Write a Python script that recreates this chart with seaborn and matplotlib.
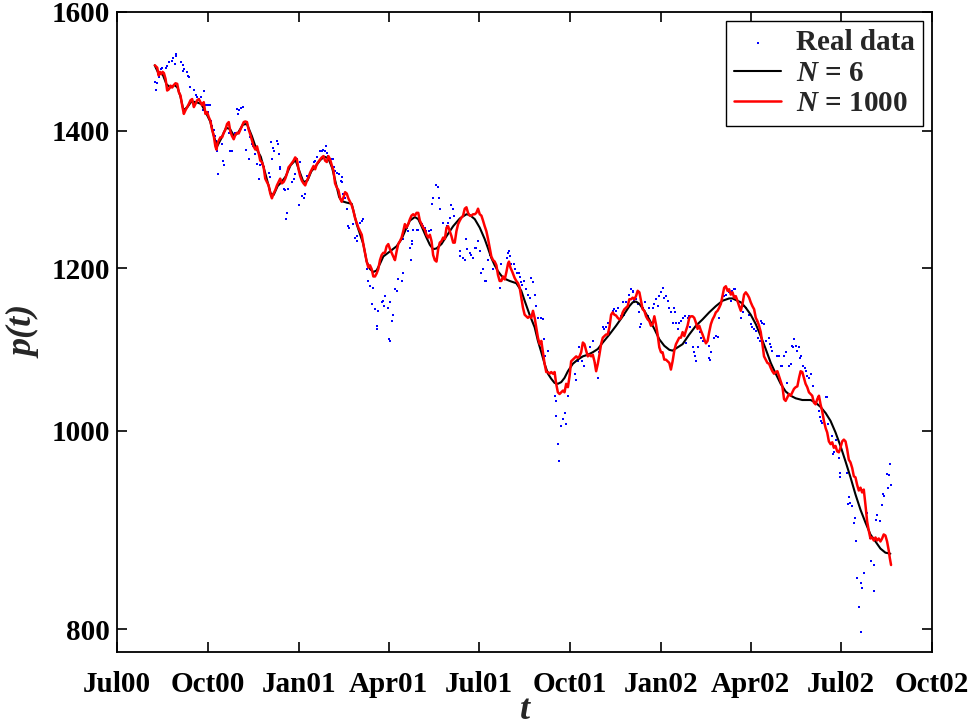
import numpy as np
import pandas as pd
import matplotlib
matplotlib.use("Agg")
import matplotlib.pyplot as plt
import matplotlib.ticker as mticker
import seaborn as sns

# ---------------- data (days since 2000-07-01, index level) ----------------
START = "2000-07-01"

real_days = [38.2, 38.9, 39.9, 42.3, 43.9, 45.6, 49.0, 50.6, 52.3, 55.7, 56.7, 58.0, 59.3, 60.0, 64.7, 66.1, 66.7, 67.4,
             70.1, 71.8, 73.1, 74.1, 78.1, 79.5, 80.8, 82.5, 84.8, 85.8, 86.8, 87.5, 89.2, 90.9, 92.2, 92.5, 94.2, 94.8,
             95.9, 98.2, 99.2, 100.3, 100.9, 101.6, 106.0, 106.6, 107.6, 112.7, 114.3, 116.0, 119.4, 121.0, 122.1, 123.4,
             125.4, 127.1, 129.4, 130.4, 132.8, 134.5, 136.1, 137.1, 139.5, 141.2, 142.8, 144.5, 146.2, 147.9, 152.9,
             154.6, 155.6, 156.2, 157.3, 158.6, 161.3, 161.9, 163.0, 164.0, 164.6, 168.0, 169.7, 170.7, 171.3, 172.0,
             176.4, 178.0, 179.7, 181.4, 183.1, 184.7, 186.4, 188.1, 189.8, 191.5, 193.1, 194.8, 198.2, 199.8, 201.5,
             204.9, 206.5, 208.2, 209.9, 210.9, 211.6, 213.2,
             216.6, 218.3, 218.9, 220.3, 221.6, 224.3, 225.6, 226.6, 227.0, 228.3, 230.0, 232.3, 233.3, 234.4, 238.4,
             240.1, 241.7, 242.4, 244.4, 245.1, 246.8, 248.4, 251.8, 253.5, 255.1, 256.8, 258.5, 260.2, 261.8, 262.5,
             263.5, 266.9, 268.6, 269.2, 270.2, 273.6, 274.6, 275.3, 275.8, 276.9, 278.6, 280.3, 282.0, 283.6, 287.0,
             288.0, 288.7, 290.3, 292.0, 293.7, 295.4, 296.0, 297.0, 298.0, 298.7, 302.1, 303.8, 307.1, 308.8, 310.5,
             312.1, 314.8, 316.2, 317.2, 318.8, 322.2, 323.9, 324.9, 326.2, 328.9, 332.3, 333.9, 335.6, 337.3, 339.0,
             339.6, 345.7, 346.3, 349.0, 350.7, 352.4, 353.1, 355.7, 357.4, 359.1, 360.8, 362.4, 364.1, 365.8, 367.5,
             369.1, 370.8, 372.5, 374.2, 375.8, 377.5, 379.2, 380.9, 382.6, 385.9, 387.6,
             393.3, 394.3, 395.3, 396.0, 397.7, 400.0, 401.0, 403.4, 405.4, 406.7, 407.7, 408.7, 410.1, 412.8, 414.4,
             416.1, 417.8, 419.5, 421.2, 422.8, 424.5, 427.9, 429.5, 430.2, 431.2, 434.6, 441.3, 442.3, 442.9, 444.6,
             445.6, 448.0, 449.7, 451.3, 453.0, 454.7, 461.4, 463.1, 464.7, 465.8, 467.1, 469.1, 469.8, 471.4, 476.5,
             479.8, 482.5, 484.9, 486.5, 489.9, 491.6, 493.2, 494.9, 496.6, 500.0, 501.6, 503.3, 505.0, 508.3, 510.0,
             511.7, 513.4, 516.7, 518.4, 520.1, 520.7, 521.7, 523.4, 525.1, 526.1, 527.4, 528.4, 530.1, 532.8, 535.2,
             536.8, 540.2, 541.9, 543.5, 545.2, 546.9, 548.6, 550.2, 551.9, 553.6, 555.3, 557.0, 558.6, 560.3, 562.0,
             563.0, 563.7, 565.3, 566.4, 568.7, 570.4, 573.1, 573.7, 575.4, 577.1,
             577.8, 580.5, 582.1, 583.1, 583.8, 585.5, 587.8, 588.8, 590.5, 596.6, 597.2, 597.9, 598.9, 602.3, 603.9,
             605.6, 606.6, 610.0, 612.3, 614.0, 617.3, 619.0, 620.7, 622.4, 623.4, 629.1, 630.8, 632.4, 634.1, 637.5,
             639.1, 640.8, 642.5, 644.2, 645.8, 646.8, 648.2, 649.2, 650.9, 652.5, 654.2, 657.6, 658.3, 659.3, 660.9,
             666.0, 667.6, 669.3, 671.0, 672.7, 674.3, 676.0, 677.7, 679.4, 680.4, 681.7, 682.7, 684.4, 686.1, 687.8,
             688.4, 689.4, 691.8, 693.8, 695.1, 696.1, 697.8, 699.5,
             702.2, 704.5, 707.9, 708.9, 710.2, 711.2, 714.6, 715.6, 716.9, 721.3, 722.3, 723.0, 724.6, 728.0, 729.0,
             729.6, 736.4, 737.0, 738.0, 739.0, 741.4, 743.1, 744.7, 745.3, 746.4, 748.1, 749.8, 750.4, 751.4, 753.1,
             756.5, 759.8, 760.3, 763.2, 763.9, 765.9, 766.5, 769.2, 771.6, 772.6, 773.2, 776.6, 777.6, 778.3, 779.9,
             780.6]
real_price = [1479, 1466, 1477, 1487, 1500, 1503, 1503, 1506, 1512, 1514, 1520, 1509, 1523, 1526, 1512, 1498, 1507, 1500,
              1495, 1489, 1487, 1470, 1466, 1457, 1454, 1451, 1454, 1443, 1433, 1464, 1441, 1441, 1430, 1442, 1441, 1416,
              1408, 1402, 1392, 1385, 1369, 1334, 1379, 1354, 1347, 1397, 1369, 1369, 1397, 1435, 1427, 1433,
              1437, 1438, 1402, 1371, 1356, 1390, 1379, 1376, 1364, 1349, 1327, 1347, 1349, 1344, 1336,
              1329, 1382, 1356, 1374, 1369, 1385, 1379, 1364, 1344, 1341, 1312, 1310, 1268, 1277, 1312,
              1322, 1327, 1334, 1356, 1288, 1352, 1302, 1299, 1305, 1331, 1329, 1334, 1352, 1354, 1359,
              1369, 1369, 1371, 1369, 1376, 1366, 1361,
              1357, 1356, 1345, 1339, 1336, 1334, 1323, 1330, 1322, 1305, 1299, 1283, 1258, 1256, 1261,
              1242, 1244, 1237, 1253, 1263, 1266, 1268, 1199, 1183, 1176, 1153, 1174, 1146, 1125, 1121,
              1144, 1155, 1157, 1150, 1163, 1148, 1108, 1106, 1155, 1131, 1139, 1172, 1170, 1185, 1183,
              1193, 1240, 1253, 1256, 1251, 1228, 1211, 1233, 1237, 1253, 1253, 1253, 1261, 1258, 1256,
              1251, 1251, 1253, 1290, 1298, 1317, 1314, 1298, 1283, 1263, 1258, 1263, 1270, 1288, 1283,
              1273, 1223, 1216, 1214, 1211, 1240, 1226, 1221, 1218, 1214, 1228, 1228, 1237, 1223, 1193,
              1199, 1183, 1183, 1211, 1218, 1216, 1199, 1206, 1204, 1174, 1206,
              1214, 1221, 1223, 1216, 1206, 1206, 1199, 1193, 1193, 1188, 1181, 1177, 1183, 1173, 1165,
              1161, 1187, 1181, 1165, 1150, 1135, 1135, 1134, 1108, 1087, 1094, 1040, 1034, 1017, 985,
              966, 1005, 1013, 1020, 1007, 1040, 1066, 1059, 1081, 1098, 1087, 1081, 1104, 1075, 1098,
              1106, 1079, 1061, 1092, 1123, 1121, 1123, 1129, 1117, 1144, 1146, 1144, 1148, 1137, 1155,
              1139, 1155, 1165, 1172, 1170, 1168, 1157, 1159, 1153, 1142, 1123, 1127, 1148, 1155, 1137,
              1148, 1148, 1153, 1159, 1150, 1163, 1168, 1174, 1161, 1163, 1157, 1148, 1142, 1129, 1148,
              1142, 1129, 1121, 1129, 1131, 1135, 1137, 1104, 1135, 1137,
              1123, 1098, 1092, 1087, 1081, 1098, 1117, 1110, 1106, 1085, 1100, 1083, 1092, 1110, 1112,
              1111, 1135, 1157, 1163, 1165, 1168, 1157, 1170, 1172, 1173, 1135, 1142, 1150, 1148, 1139,
              1127, 1123, 1121, 1119, 1131, 1110, 1106, 1131, 1129, 1127, 1106, 1110, 1102, 1098, 1094,
              1087, 1087, 1075, 1075, 1087, 1092, 1055, 1075, 1078, 1100, 1098, 1108, 1100, 1094, 1098,
              1085, 1087, 1075, 1073, 1069, 1063, 1061, 1066,
              1051, 1030, 1022, 1015, 1011, 1009, 1039, 1038, 1007, 994, 974, 976, 990, 970, 949,
              954, 954, 921, 928, 922, 919, 902, 907, 883, 848, 820, 798, 843, 838, 852,
              912, 886, 864, 835, 860, 905, 910, 904, 920, 931, 929, 953, 938, 951, 963,
              941]

n6_days = [38, 42, 46, 50, 54, 58, 61, 64, 67, 71, 75, 80, 85, 90, 94, 98, 101, 105, 110, 114, 118, 122, 127, 131,
           136, 140, 145, 150, 155, 158, 162, 166, 170, 175, 180, 184, 188, 192, 196, 200, 205, 209, 213, 217, 221,
           224, 226.6, 231, 236.7, 241.7, 248.4, 251.8, 255.1, 258.5, 261.8, 265.2, 268.6, 275.3, 282.0, 287.0,
           292.0, 295.4, 300.4, 303.8, 307.1, 312.1, 315.5, 318.8, 322.2, 327.2, 332.3, 339.0, 345.7, 352.4, 355.7,
           360.8, 365.8, 370.8, 374.2, 377.5, 380.9, 384.2, 387.6, 390.9, 396.0, 402.7, 407.7, 411.1, 416.1, 421.2,
           424.5, 427.9, 431.2, 434.6, 437.9, 441.3, 444.6, 448.0, 451.3, 454.7, 459.7, 464.7, 469.8, 474.8, 479.8,
           484.9, 489.9, 496.6, 503.3, 510.0, 516.7, 520.1, 523.4, 526.8, 531.8, 536.8, 541.9, 546.9, 551.9, 557.0,
           560.3, 565.3, 570.4, 577.1, 583.8, 590.5, 597.2, 603.9, 610.6, 617.3, 620.7, 624.0, 629.1, 634.1, 639.1,
           644.2, 649.2, 654.2, 659.3, 664.3, 669.3, 674.3, 679.4, 684.4, 691.1, 699.5, 704.5, 709.5, 714.6, 719.6,
           724.6, 729.6, 734.7, 739.7, 744.7, 749.8, 754.8, 759.8, 764.9, 769.9, 774.9, 779.9]
n6_price = [1507, 1493, 1492, 1475, 1470, 1474, 1470, 1455, 1433, 1438, 1447, 1446, 1443, 1428, 1415, 1390, 1376,
            1388, 1405, 1403, 1392, 1397, 1410, 1411, 1392, 1374, 1360, 1332, 1305, 1303, 1316, 1322, 1330, 1347,
            1355, 1338, 1322, 1324, 1338, 1345, 1355, 1360, 1358, 1343, 1318, 1300, 1294, 1292, 1290, 1261, 1233,
            1209, 1199, 1195, 1197, 1206, 1216, 1223, 1230, 1240, 1256, 1266, 1271, 1268, 1258, 1242, 1232, 1226,
            1227, 1233, 1244, 1258, 1269, 1275, 1274, 1268, 1256, 1240, 1227, 1214, 1204, 1196, 1190, 1186, 1183,
            1180, 1170, 1157, 1139, 1123, 1106, 1092, 1078, 1066, 1060, 1055, 1054, 1056, 1061, 1069, 1078, 1083,
            1087, 1089, 1092, 1096, 1104, 1114, 1125, 1137, 1150, 1155, 1156, 1153, 1144, 1133, 1121, 1108, 1100,
            1095, 1094, 1098, 1102, 1114, 1125, 1133, 1142, 1150, 1157, 1160, 1160, 1158, 1155, 1148, 1139, 1127,
            1112, 1096, 1079, 1066, 1054, 1045, 1040, 1037, 1035, 1035, 1032, 1027, 1020, 1011, 998, 983, 966, 949,
            931, 915, 902, 890, 883, 876, 872, 871]

n1000_days = [38.2, 40.6, 41.9, 43.3, 44.6, 46.0, 47.3, 49.0, 50.6, 52.3, 54.0, 55.7, 57.3, 59.0, 60.7, 62.4, 64.0,
              65.7, 67.4, 69.1, 70.8, 72.4, 74.1, 75.8, 77.5, 79.1, 80.8, 82.5, 84.2, 85.8, 87.5, 89.2, 90.9, 92.5,
              94.2, 95.9, 97.6, 99.2, 100.3, 101.6, 104.3, 106.0, 107.6, 109.3, 111.0, 112.7, 114.3, 116.0, 117.7,
              119.4, 121.0, 122.7, 124.4, 126.1, 127.8, 129.4, 131.1, 132.8, 134.5, 136.1, 137.8, 139.5, 141.2,
              142.8, 144.5, 146.2, 147.9, 149.5, 152.9, 154.6, 156.2, 157.9, 159.6, 161.3, 164.6, 166.3, 168.0,
              169.7, 171.3, 173.0, 174.7, 178.0, 179.7, 181.4, 183.1, 184.7, 186.4, 188.1, 189.8, 191.5, 193.1,
              194.8, 196.5, 198.2, 199.8, 201.5, 204.9, 206.5,
              208.2, 209.9, 211.6, 213.2, 214.9, 216.6, 218.3, 219.9, 221.6, 223.3, 225.0, 226.6, 228.3, 230.0,
              231.7, 233.3, 235.0, 236.7, 238.4, 240.0, 241.7, 243.4, 245.1, 246.8, 248.4, 250.1, 251.8, 253.5,
              255.1, 256.8, 258.5, 260.2, 261.8, 263.5, 265.2, 266.9, 268.6, 270.2, 271.9, 273.6, 275.3, 276.9,
              278.6, 280.3, 282.0, 283.6, 285.3, 287.0, 288.7, 290.3, 292.0, 293.7, 295.4, 297.0, 298.7, 300.4,
              302.1, 303.8, 305.4, 307.1, 308.8, 310.5, 312.1, 313.8, 315.5, 317.2, 318.8, 320.5, 322.2, 323.9,
              325.5, 327.2, 328.9, 330.6, 332.3, 333.9, 335.6, 337.3, 339.0, 340.6, 342.3, 344.0, 345.7, 347.3,
              349.0, 350.7, 352.4, 354.0, 355.7, 357.4, 359.1, 360.8, 362.4, 364.1, 365.8, 367.5, 369.1, 370.8,
              372.5, 374.2, 375.8, 377.5, 379.2, 380.9, 382.6, 384.2, 385.9, 387.6,
              389.3, 391.0, 392.7, 394.3, 395.3, 396.7, 398.7, 401.0, 402.7, 404.4, 406.1, 407.7, 409.4, 411.1,
              412.8, 414.4, 416.1, 417.8, 419.5, 421.2, 422.8, 424.5, 426.2, 427.9, 429.5, 431.2, 432.9, 434.6,
              436.2, 437.9, 439.6, 441.3, 442.9, 444.6, 446.3, 448.0, 449.7, 451.3, 453.0, 454.7, 456.4, 458.0,
              459.7, 461.4, 463.1, 464.7, 466.4, 468.1, 469.8, 471.4, 473.1, 474.8, 476.5, 478.1, 479.8, 481.5,
              483.2, 484.9, 486.5, 488.2, 489.9, 491.6, 493.2, 494.9, 496.6, 498.3, 499.9, 501.6, 503.3, 505.0,
              506.7, 508.3, 510.0, 511.7, 513.4, 515.0, 516.7, 518.4, 520.1, 521.7, 523.4, 525.1, 526.8, 528.4,
              530.1, 531.8, 533.5, 535.2, 536.8, 538.5, 540.2, 541.9, 543.5, 545.2, 546.9, 548.6, 550.2, 551.9,
              553.6, 555.3, 557.0, 558.6, 560.3, 562.0, 563.7, 565.3, 567.0, 568.7,
              570.4, 572.1, 573.8, 575.4, 577.1, 578.8, 580.5, 582.1, 583.8, 585.5, 587.2, 588.8, 590.5, 592.2,
              593.9, 595.6, 597.2, 598.9, 600.6, 602.3, 603.9, 605.6, 607.3, 609.0, 610.6, 612.3, 614.0, 615.7,
              617.3, 619.0, 620.7, 622.4, 624.0, 625.7, 627.4, 629.1, 630.8, 632.4, 634.1, 635.8, 637.5, 639.1,
              640.8, 642.5, 644.2, 645.8, 647.5, 649.2, 650.9, 652.5, 654.2, 655.9, 657.6, 659.3, 660.9, 662.6,
              664.3, 666.0, 667.6, 669.3, 671.0, 672.7, 674.3, 676.0, 677.7, 679.4, 681.0, 682.7, 684.4, 686.1,
              687.8, 689.4, 691.1, 692.8,
              694.4, 696.1, 697.8, 699.5, 701.1, 702.8, 704.5, 706.2, 707.9, 709.5, 711.2, 712.9, 714.6, 716.2,
              717.9, 719.6, 721.3, 722.9, 724.6, 726.3, 728.0, 729.6, 731.3, 733.0, 734.7, 736.4, 738.0, 739.7,
              741.4, 743.1, 744.7, 746.4, 748.1, 749.8, 751.4, 753.1, 754.8, 756.5, 758.1, 759.8, 761.5, 763.2,
              764.9, 766.5, 768.2, 769.9, 771.6, 773.2, 774.9, 776.6, 778.3, 779.3, 780.6]
n1000_price = [1507, 1503, 1490, 1496, 1492, 1496, 1494, 1484, 1465, 1467, 1473, 1470, 1474, 1477, 1476, 1462, 1457,
               1441, 1427, 1433, 1438, 1443, 1449, 1451, 1438, 1443, 1449, 1451, 1446, 1441, 1446, 1427, 1430, 1422,
               1416, 1402, 1392, 1376, 1371, 1382, 1390, 1390, 1397, 1402, 1411, 1414, 1399, 1392, 1387,
               1394, 1397, 1396, 1402, 1408, 1414, 1415, 1414, 1402, 1394, 1385, 1376, 1371, 1376,
               1366, 1354, 1352, 1344, 1327, 1317, 1305, 1298, 1305, 1310, 1317, 1327, 1320, 1322,
               1327, 1334, 1344, 1347, 1354, 1359, 1356, 1341, 1331, 1324, 1320, 1317, 1324, 1329,
               1336, 1341, 1346, 1341, 1349, 1356, 1359,
               1361, 1354, 1352, 1361, 1356, 1347, 1339, 1320, 1314, 1310, 1298, 1293, 1299, 1307,
               1305, 1298, 1293, 1288, 1280, 1270, 1263, 1256, 1251, 1246, 1233, 1221, 1209, 1201,
               1204, 1199, 1189, 1189, 1193, 1199, 1211, 1218, 1221, 1221, 1230, 1233, 1226, 1221,
               1216, 1211, 1223, 1233, 1237, 1242, 1251, 1261, 1256, 1261, 1268, 1273, 1275, 1273,
               1277, 1277, 1266, 1261, 1256, 1253, 1246, 1242, 1246, 1237, 1218, 1211, 1209, 1226,
               1235, 1237, 1242, 1240, 1256, 1258, 1251, 1244, 1235, 1235, 1251, 1261, 1266, 1270,
               1273, 1283, 1285, 1277, 1273, 1273, 1275, 1275, 1277, 1283, 1275, 1273, 1266, 1258,
               1251, 1240, 1228, 1216, 1211, 1209, 1204, 1191, 1183, 1183,
               1189, 1185, 1195, 1206, 1209, 1201, 1195, 1187, 1183, 1180, 1174, 1161, 1148, 1139,
               1137, 1135, 1137, 1135, 1144, 1135, 1123, 1110, 1102, 1106, 1092, 1078, 1068, 1068,
               1066, 1068, 1066, 1068, 1054, 1044, 1042, 1044, 1046, 1044, 1054, 1050, 1063, 1081,
               1083, 1085, 1087, 1085, 1087, 1092, 1104, 1102, 1094, 1087, 1089, 1087, 1089, 1081,
               1069, 1078, 1089, 1102, 1110, 1112, 1114, 1114, 1123, 1139, 1142, 1139, 1138, 1135,
               1133, 1135, 1142, 1146, 1148, 1150, 1159, 1159, 1161, 1159, 1163, 1170, 1168, 1157,
               1146, 1144, 1137, 1133, 1131, 1125, 1127, 1137, 1127, 1114, 1098, 1092, 1092, 1083,
               1083, 1081, 1079, 1071, 1081, 1094, 1102, 1106, 1110, 1110,
               1117, 1112, 1119, 1125, 1135, 1137, 1137, 1135, 1129, 1121, 1125, 1119, 1114, 1108,
               1103, 1106, 1117, 1127, 1133, 1137, 1142, 1144, 1148, 1153, 1163, 1174, 1176, 1170,
               1172, 1165, 1168, 1161, 1163, 1157, 1150, 1144, 1153, 1165, 1168, 1165, 1161, 1155,
               1150, 1146, 1135, 1131, 1125, 1117, 1102, 1087, 1083, 1079, 1078, 1073, 1069, 1066,
               1068, 1069, 1063, 1057, 1051, 1036, 1034, 1038, 1042, 1040, 1044, 1048, 1050, 1051,
               1061, 1069, 1068, 1061,
               1054, 1050, 1044, 1042, 1040, 1032, 1030, 1036, 1040, 1030, 1022, 1011, 1003, 998,
               988, 985, 987, 981, 983, 977, 976, 981, 988, 990, 988, 979, 968, 965,
               959, 950, 949, 941, 935, 938, 933, 936, 920, 903, 894, 886, 887, 884,
               887, 884, 886, 883, 886, 890, 889, 883, 874, 867, 860]

x_tick_dates = ["2000-07-01", "2000-10-01", "2001-01-01", "2001-04-01", "2001-07-01",
                "2001-10-01", "2002-01-01", "2002-04-01", "2002-07-01", "2002-10-01"]
x_tick_labels = ["Jul00", "Oct00", "Jan01", "Apr01", "Jul01", "Oct01", "Jan02", "Apr02", "Jul02", "Oct02"]
y_ticks = [800, 1000, 1200, 1400, 1600]
series_labels = ["Real data", "$N$ = 6", "$N$ = 1000"]

# ---------------- style ----------------
sns.set_theme(style="ticks")
plt.rcParams["font.family"] = ["Liberation Serif", "DejaVu Serif"]
plt.rcParams["font.weight"] = "bold"
plt.rcParams["mathtext.fontset"] = "custom"
plt.rcParams["mathtext.it"] = "Liberation Serif:italic:bold"
plt.rcParams["mathtext.rm"] = "Liberation Serif:bold"
plt.rcParams["mathtext.bf"] = "Liberation Serif:bold"


def to_dates(days):
    return pd.Timestamp(START) + pd.to_timedelta(np.asarray(days, dtype=float), unit="D")


real_df = pd.DataFrame({"t": to_dates(real_days), "p": real_price})
n6_df = pd.DataFrame({"t": to_dates(n6_days), "p": n6_price})
n1000_df = pd.DataFrame({"t": to_dates(n1000_days), "p": n1000_price})

fig = plt.figure(figsize=(9.75, 7.27), dpi=100)
ax = fig.add_axes([0.120, 0.1032, 0.836, 0.8803])

sns.scatterplot(data=real_df, x="t", y="p", ax=ax, color="blue", s=4, marker="s",
                linewidth=0, label=series_labels[0], zorder=2, legend=False)
sns.lineplot(data=n6_df, x="t", y="p", ax=ax, color="black", linewidth=1.5,
             estimator=None, sort=False, label=series_labels[1], zorder=3, legend=False)
sns.lineplot(data=n1000_df, x="t", y="p", ax=ax, color="red", linewidth=1.8,
             estimator=None, sort=False, label=series_labels[2], zorder=4, legend=False)

ax.set_yscale("log")
ax.set_ylim(780, 1600)
ax.yaxis.set_major_locator(mticker.FixedLocator(y_ticks))
ax.yaxis.set_major_formatter(mticker.FixedFormatter([str(v) for v in y_ticks]))
ax.yaxis.set_minor_locator(mticker.NullLocator())

ax.set_xlim(pd.Timestamp(x_tick_dates[0]), pd.Timestamp(x_tick_dates[-1]))
ax.set_xticks(pd.to_datetime(x_tick_dates))
ax.set_xticklabels(x_tick_labels)
ax.xaxis.set_minor_locator(mticker.NullLocator())

ax.tick_params(direction="in", length=7, width=1.2, top=True, right=True,
               labelsize=21, colors="black")
ax.tick_params(axis="x", pad=14)
ax.tick_params(axis="y", pad=5)
for lbl in ax.get_xticklabels() + ax.get_yticklabels():
    lbl.set_fontweight("bold")

for sp in ax.spines.values():
    sp.set_visible(True)
    sp.set_color("black")
    sp.set_linewidth(1.3)
ax.grid(False)

ax.set_xlabel("t", fontsize=26, fontstyle="italic", fontweight="bold", labelpad=-3)
ax.set_ylabel("p(t)", fontsize=26, fontstyle="italic", fontweight="bold", labelpad=7)

handles, labels = ax.get_legend_handles_labels()
leg = ax.legend(handles, labels, loc="upper right", fontsize=21, frameon=True, fancybox=False,
                edgecolor="black", framealpha=1, borderpad=0.3, handlelength=1.6,
                handletextpad=0.5, labelspacing=0.12, borderaxespad=0.3, markerscale=1.0)
leg.get_frame().set_linewidth(1.0)
for txt in leg.get_texts():
    txt.set_fontweight("bold")

fig.savefig("out.png", dpi=100)
